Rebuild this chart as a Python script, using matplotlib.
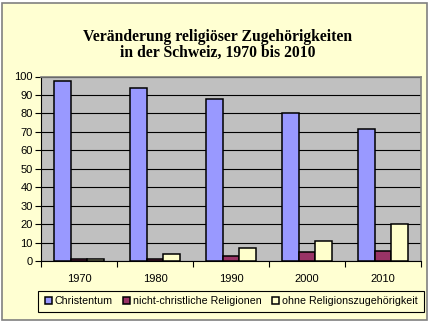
import numpy as np
import matplotlib
matplotlib.use("Agg")
import matplotlib.pyplot as plt
from matplotlib.patches import Rectangle

# data (percent of population)
years = ["1970", "1980", "1990", "2000", "2010"]
christentum = [97.8, 93.8, 87.8, 80.0, 71.5]
nicht_christlich = [1.0, 1.1, 2.8, 4.7, 5.6]
ohne = [1.1, 4.0, 6.9, 10.7, 20.0]
series_names = ["Christentum", "nicht-christliche Religionen",
                "ohne Religionszugehörigkeit"]
series_colors = ["#9999FF", "#993366", "#FFFFCC"]

plt.rcParams["font.family"] = ["Liberation Sans", "DejaVu Sans"]

W, H = 435, 323
fig = plt.figure(figsize=(W / 100, H / 100), dpi=100)
fig.patch.set_facecolor("white")

# pale yellow chart area with grey frame
fig.patches.append(Rectangle((2.5 / W, 3.5 / H), 425 / W, 317 / H,
                             transform=fig.transFigure,
                             facecolor="#FFFFD2", edgecolor="#808080",
                             linewidth=1.2, zorder=-5))

ax = fig.add_axes([41 / W, 62 / H, 380 / W, 184.5 / H])
ax.set_facecolor("#C0C0C0")

x = np.arange(len(years))
w = 0.222
for i, (vals, col) in enumerate(zip([christentum, nicht_christlich, ohne],
                                    series_colors)):
    ax.bar(x + (i - 1) * w, vals, width=w, color=col, edgecolor="black",
           linewidth=1.1, label=series_names[i], zorder=3)

ax.set_ylim(0, 100)
ax.set_xlim(-0.5, len(years) - 0.5)
ax.set_yticks(range(0, 101, 10))
ax.yaxis.grid(True, color="black", linewidth=0.8, zorder=1)
ax.set_axisbelow(True)

# category labels in the middle, ticks on the boundaries
ax.set_xticks(np.arange(-0.5, len(years), 1.0))
ax.set_xticklabels([])
ax.set_xticks(x, minor=True)
ax.set_xticklabels(years, minor=True)
ax.tick_params(axis="x", which="minor", length=0, pad=9, labelsize=8)
ax.tick_params(axis="x", which="major", length=4, direction="out",
               color="black")
ax.tick_params(axis="y", length=4, direction="out", labelsize=8, pad=2)

for s in ["left", "bottom"]:
    ax.spines[s].set_color("black")
for s in ["top", "right"]:
    ax.spines[s].set_color("#808080")
    ax.spines[s].set_linewidth(1.2)

fig.text(0.5, 1 - 45 / H, "Veränderung religiöser Zugehörigkeiten\n"
         "in der Schweiz, 1970 bis 2010", ha="center", va="center",
         family="Liberation Serif", fontweight="bold", fontsize=11.3,
         linespacing=1.05)

# legend frame drawn by hand, legend itself without frame
fig.patches.append(Rectangle((38 / W, 11 / H), 386 / W, 21 / H,
                             transform=fig.transFigure,
                             facecolor="#FFFFD2", edgecolor="black",
                             linewidth=0.8, zorder=-1))
leg = fig.legend(loc="center", bbox_to_anchor=(231 / W, 1 - 301.5 / H),
                 ncol=3, fontsize=7.7, frameon=False,
                 handlelength=0.65, handleheight=0.65, handletextpad=0.25,
                 columnspacing=1.0, borderpad=0.0)

fig.savefig("out.png", dpi=100, facecolor=fig.get_facecolor())
